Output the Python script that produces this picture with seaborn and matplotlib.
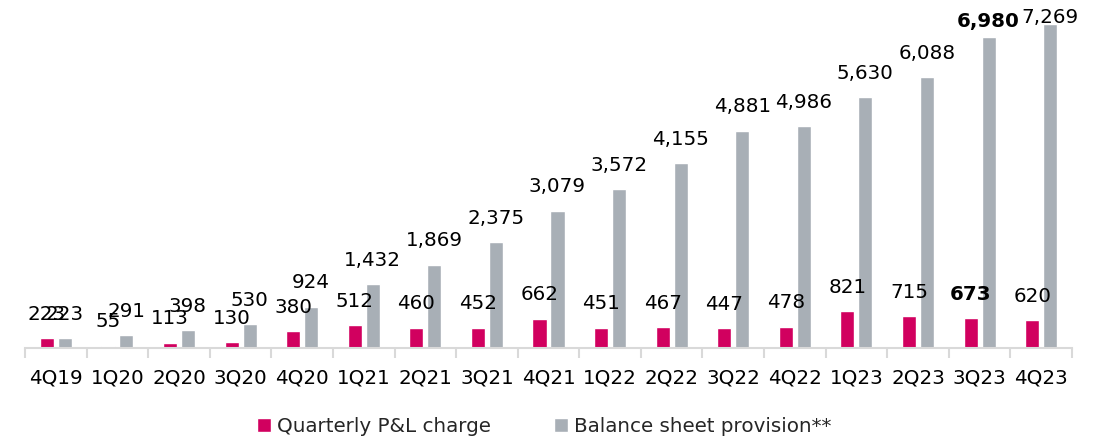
import pandas as pd
import seaborn as sns
import matplotlib.pyplot as plt

# Quarterly data
quarters = ['4Q19', '1Q20', '2Q20', '3Q20', '4Q20', '1Q21', '2Q21', '3Q21', '4Q21',
            '1Q22', '2Q22', '3Q22', '4Q22', '1Q23', '2Q23', '3Q23', '4Q23']
pl_charge = [223, 55, 113, 130, 380, 512, 460, 452, 662,
             451, 467, 447, 478, 821, 715, 673, 620]
bs_provision = [223, 291, 398, 530, 924, 1432, 1869, 2375, 3079,
                3572, 4155, 4881, 4986, 5630, 6088, 6980, 7269]
series_names = ['Quarterly P&L charge', 'Balance sheet provision**']
bold_quarter = '3Q23'

PINK = '#D1005F'
GRAY = '#A8AFB6'
FS = 14.3

df = pd.DataFrame({
    'quarter': quarters * 2,
    'series': [series_names[0]] * len(quarters) + [series_names[1]] * len(quarters),
    'value': pl_charge + bs_provision,
})

sns.set_theme(style='white')
plt.rcParams['font.family'] = ['DejaVu Sans']

fig = plt.figure(figsize=(11.1, 4.36), dpi=100)
ax = fig.add_axes([25 / 1110, 88 / 436, 1047 / 1110, 328 / 436])

sns.barplot(data=df, x='quarter', y='value', hue='series', order=quarters,
            hue_order=series_names, palette=[PINK, GRAY],
            width=0.584, gap=0.22, saturation=1, ax=ax)

# value labels above each bar; the two tallest get squeezed under the top edge
for container in ax.containers:
    for q, bar in zip(quarters, container):
        h = bar.get_height()
        lift = 17.3
        if h > 6500:
            lift = 11.5 if h < 7000 else 5
        ax.annotate(f'{int(round(h)):,}', (bar.get_x() + bar.get_width() / 2, h),
                    xytext=(0, lift), textcoords='offset points',
                    ha='center', va='center', fontsize=FS, color='black',
                    fontweight='bold' if q == bold_quarter else 'normal',
                    annotation_clip=False)

ax.set_ylim(0, 7370)
ax.set_xlim(-0.5, len(quarters) - 0.5)
ax.set_xlabel('')
ax.set_ylabel('')
ax.set_yticks([])

for side in ['left', 'right', 'top']:
    ax.spines[side].set_visible(False)
ax.spines['bottom'].set_color('#D9D9D9')
ax.spines['bottom'].set_linewidth(1.5)

# ticks at the category boundaries, labels centred
ax.set_xticks([i - 0.5 for i in range(len(quarters) + 1)], minor=True)
ax.tick_params(axis='x', which='minor', length=7, width=1.5, color='#D9D9D9', bottom=True)
ax.tick_params(axis='x', which='major', length=0, pad=15, labelsize=FS, labelcolor='black')

ax.legend(loc='upper center', bbox_to_anchor=(0.496, -0.155), ncol=2, frameon=False,
          fontsize=FS, handlelength=0.7, handleheight=0.7, handletextpad=0.3,
          columnspacing=3.2)

fig.savefig('out.png', dpi=100)
